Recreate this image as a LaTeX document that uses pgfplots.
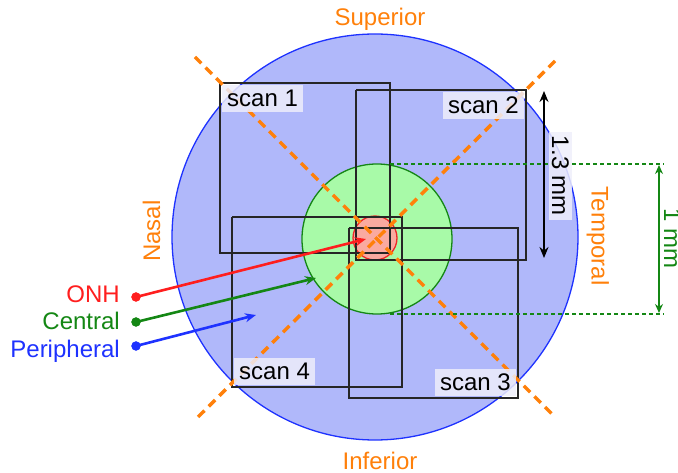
\documentclass[border=0pt]{standalone}
\usepackage{pgfplots}
\pgfplotsset{compat=1.18}
\usepackage{fontspec}
\setmainfont{Liberation Sans}
\usetikzlibrary{arrows.meta}
\definecolor{bluefill}{RGB}{176,184,250}
\definecolor{blueline}{RGB}{30,50,255}
\definecolor{greenfill}{RGB}{168,250,168}
\definecolor{greenline}{RGB}{20,135,20}
\definecolor{redfill}{RGB}{250,170,160}
\definecolor{redline}{RGB}{240,40,40}
\definecolor{orng}{RGB}{255,128,10}
\definecolor{onh}{RGB}{255,30,30}
\definecolor{boxfill}{RGB}{238,238,250}
\begin{document}
\begin{tikzpicture}
\begin{axis}[hide axis, scale only axis, width=678pt, height=473pt,
  xmin=0, xmax=678, ymin=0, ymax=473, y dir=reverse, clip=false]
% circles
\draw[blueline, line width=1.3pt, fill=bluefill] (axis cs:375,237) circle[radius=203];
\draw[greenline, line width=1.3pt, fill=greenfill] (axis cs:377,239) circle[radius=75];
\draw[redline, line width=1.3pt, fill=redfill] (axis cs:375,238) circle[radius=22];
% scan rectangles
\addplot[black!85, line width=1.4pt] coordinates {(220,83) (390,83) (390,253) (220,253) (220,83)};
\addplot[black!85, line width=1.4pt] coordinates {(356,90) (526,90) (526,260) (356,260) (356,90)};
\addplot[black!85, line width=1.4pt] coordinates {(349,228) (518,228) (518,398) (349,398) (349,228)};
\addplot[black!85, line width=1.4pt] coordinates {(232,217) (402,217) (402,387) (232,387) (232,217)};
% orange dashed diagonals
\addplot[orng, line width=3.5pt, dash pattern=on 9pt off 6pt] coordinates {(195,57) (555,417)};
\addplot[orng, line width=3.5pt, dash pattern=on 9pt off 6pt] coordinates {(555,61) (195,420)};
% green dimension
\addplot[greenline, line width=1.2pt, dash pattern=on 4pt off 3pt] coordinates {(390,164) (664,164)};
\addplot[greenline, line width=1.2pt, dash pattern=on 4pt off 3pt] coordinates {(390,314) (664,314)};
\addplot[greenline, line width=1.3pt, {Stealth[length=9pt,width=8pt]}-{Stealth[length=9pt,width=8pt]}] coordinates {(659,165) (659,313)};
% black 1.3 mm arrow
\addplot[black, line width=1.6pt, {Stealth[length=11pt,width=9pt]}-{Stealth[length=11pt,width=9pt]}] coordinates {(544,91) (544,258)};
% legend arrows
\addplot[onh, line width=2.6pt, -{Stealth[length=11pt,width=9pt]}] coordinates {(136,297) (366,239)};
\addplot[greenline, line width=2.6pt, -{Stealth[length=11pt,width=9pt]}] coordinates {(136,322) (316,278)};
\addplot[blueline, line width=2.6pt, -{Stealth[length=11pt,width=9pt]}] coordinates {(136,346) (256,315)};
\addplot[onh, only marks, mark=*, mark size=4.5pt] coordinates {(136,297)};
\addplot[greenline, only marks, mark=*, mark size=4.5pt] coordinates {(136,322)};
\addplot[blueline, only marks, mark=*, mark size=4.5pt] coordinates {(136,346)};
% scan labels
\tikzset{scanlbl/.style={fill=boxfill, fill opacity=0.85, text opacity=1, inner xsep=5pt, inner ysep=5pt, font=\fontsize{24pt}{28pt}\selectfont}}
\node[scanlbl, anchor=north west] at (axis cs:222,85) {scan 1};
\node[scanlbl, anchor=north east] at (axis cs:524,92) {scan 2};
\node[scanlbl, anchor=south east] at (axis cs:516,396) {scan 3};
\node[scanlbl, anchor=south west] at (axis cs:234,385) {scan 4};
\node[fill=boxfill, fill opacity=0.85, text opacity=1, inner xsep=4pt, inner ysep=3pt, rotate=-90, anchor=base, font=\fontsize{24pt}{28pt}\selectfont] at (axis cs:552,176) {1.3 mm};
% direction labels
\tikzset{lbl/.style={inner sep=0pt, font=\fontsize{24pt}{28pt}\selectfont}}
\node[lbl, orng, anchor=base] at (axis cs:380,26) {Superior};
\node[lbl, orng, anchor=base] at (axis cs:380,469) {Inferior};
\node[lbl, orng, anchor=base, rotate=90] at (axis cs:160,231) {Nasal};
\node[lbl, orng, anchor=base, rotate=-90] at (axis cs:591.5,236) {Temporal};
\node[lbl, greenline, anchor=base, rotate=-90] at (axis cs:664,239) {1 mm};
% legend labels
\node[lbl, onh, anchor=base east] at (axis cs:120,303) {ONH};
\node[lbl, greenline, anchor=base east] at (axis cs:120,330) {Central};
\node[lbl, blueline, anchor=base east] at (axis cs:120,358) {Peripheral};
\end{axis}
\pgfresetboundingbox
\useasboundingbox (current axis.south west) rectangle (current axis.north east);
\end{tikzpicture}
\end{document}
